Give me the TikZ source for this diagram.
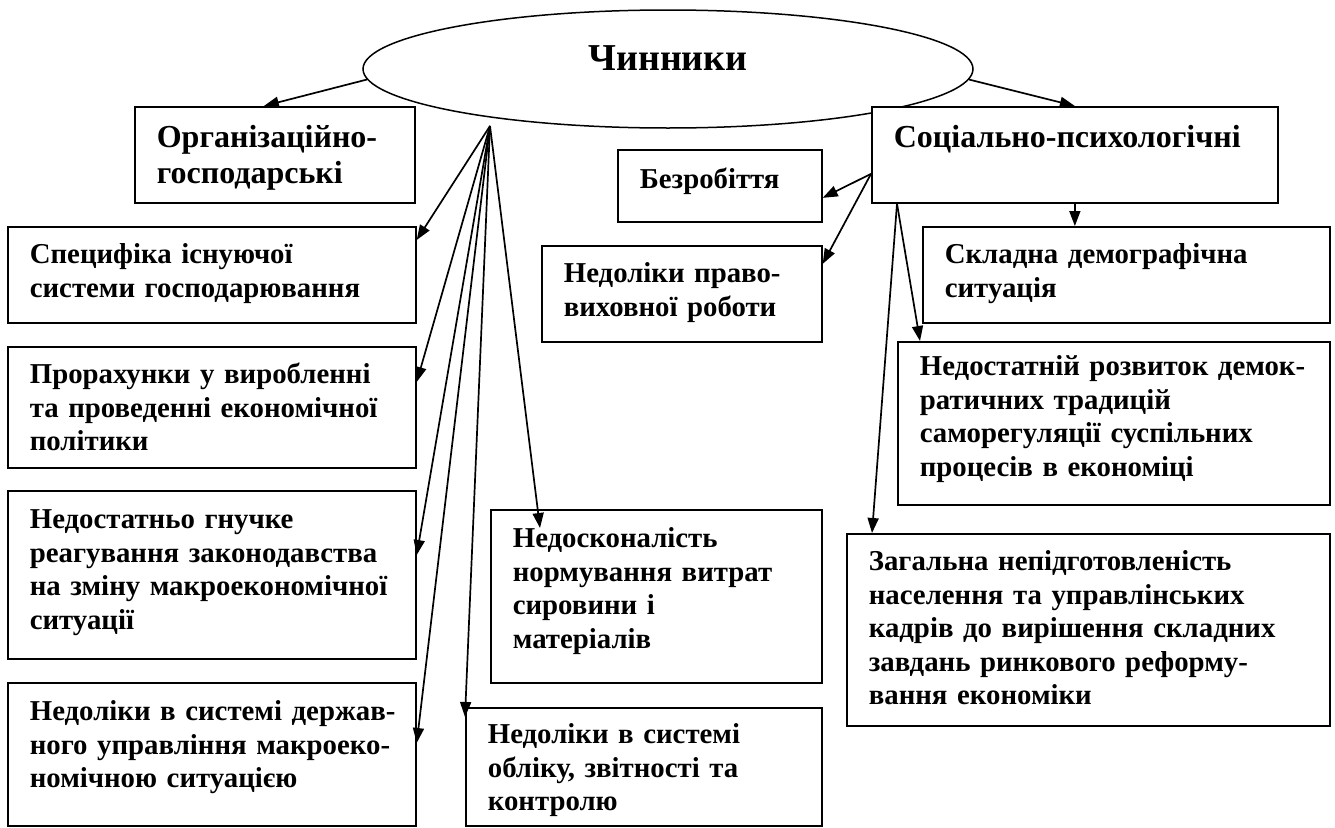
\documentclass[tikz,border=0pt]{standalone}
\usepackage{fontspec}
\setmainfont{Liberation Serif}
\usetikzlibrary{arrows.meta,shapes.geometric}
\newcommand\bxt[1]{\leftskip22pt #1\par}
\begin{document}
\begin{tikzpicture}[x=1pt,y=-1pt,
  box/.style={draw, line width=1.7pt, fill=white, anchor=north west,
    inner xsep=0pt, inner ysep=0pt, align=left,
    font=\bfseries\fontsize{28.8}{33.5}\selectfont},
  bigbox/.style={box, font=\bfseries\fontsize{32}{36}\selectfont},
  arr/.style={line width=1.7pt, -{Triangle[length=15pt,width=11pt]}}]
\useasboundingbox (0,0) rectangle (1335,827);

% central ellipse
\node[draw, ellipse, line width=1.5pt, minimum width=610pt, minimum height=118pt,
  inner sep=0pt, font=\bfseries\fontsize{38}{40}\selectfont,
  text height=20pt, text depth=18pt] (ell) at (668,69) {Чинники};

% boxes
\node[bigbox, text width=280pt, text height=41pt, text depth=55pt] (org) at (134,106)
  {\bxt{Організаційно-\\господарські}};
\node[bigbox, text width=406pt, text height=41pt, text depth=55pt] (soc) at (871,106)
  {\bxt{Соціально-психологічні}};
\node[box, text width=204pt, text height=39pt, text depth=33pt] (bez) at (617,149)
  {\bxt{Безробіття}};
\node[box, text width=280pt, text height=37pt, text depth=59pt] (prav) at (541,245)
  {\bxt{Недоліки право-\\виховної роботи}};
\node[box, text width=407pt, text height=37pt, text depth=59pt] (sklad) at (922,226)
  {\bxt{Складна демографічна\\ситуація}};
\node[box, text width=432pt, text height=34pt, text depth=129pt] (nedem) at (897,341)
  {\bxt{Недостатній розвиток демок-\\ратичних традицій\\саморегуляції суспільних\\процесів в економіці}};
\node[box, text width=483pt, text height=37pt, text depth=155pt] (zag) at (846,533)
  {\bxt{Загальна непідготовленість\\населення та управлінських\\кадрів до вирішення складних\\завдань ринкового реформу-\\вання економіки}};
\node[box, text width=408pt, text height=37pt, text depth=59pt] (spec) at (7,226)
  {\bxt{Специфіка існуючої\\системи господарювання}};
\node[box, text width=408pt, text height=37pt, text depth=84pt] (pror) at (7,346)
  {\bxt{Прорахунки у виробленні\\та проведенні економічної\\політики}};
\node[box, text width=408pt, text height=38pt, text depth=130pt] (nedo) at (7,490)
  {\bxt{Недостатньо гнучке\\реагування законодавства\\на зміну макроекономічної\\ситуації}};
\node[box, text width=408pt, text height=38pt, text depth=105pt] (derzh) at (7,682)
  {\bxt{Недоліки в системі держав-\\ного управління макроеко-\\номічною ситуацією}};
\node[box, text width=331pt, text height=38pt, text depth=135pt] (nedos) at (490,509)
  {\bxt{Недосконалість\\нормування витрат\\сировини і\\матеріалів}};
\node[box, text width=356pt, text height=36pt, text depth=82pt] (obl) at (465,707)
  {\bxt{Недоліки в системі\\обліку, звітності та\\контролю}};

% connectors
\coordinate (fan) at (490,126);
\draw[arr] (ell.182) -- ([xshift=-11pt]org.north);
\draw[arr] (ell.358) -- (soc.north);
\draw[arr] (soc.south) -- (soc.south |- sklad.north);
\draw[arr] ([yshift=-19pt]soc.west) -- ([yshift=-12pt]bez.east);
\draw[arr] ([yshift=-19pt]soc.west) -- ([yshift=30pt]prav.east);
\draw[arr] ([xshift=26pt]soc.south west) -- ([xshift=23pt]nedem.north west);
\draw[arr] ([xshift=26pt]soc.south west) -- ([xshift=26pt]zag.north west);

\draw[arr] (fan) -- ([yshift=-14pt]spec.north east);
\draw[arr] (fan) -- ([yshift=-36pt]pror.north east);
\draw[arr] (fan) -- ([yshift=-65pt]nedo.north east);
\draw[arr] (fan) -- ([yshift=-61pt]derzh.north east);
\draw[arr] (fan) -- ([yshift=-10pt]obl.north west);
\draw[arr] (fan) -- ([xshift=50pt,yshift=-19pt]nedos.north west);
\end{tikzpicture}
\end{document}
